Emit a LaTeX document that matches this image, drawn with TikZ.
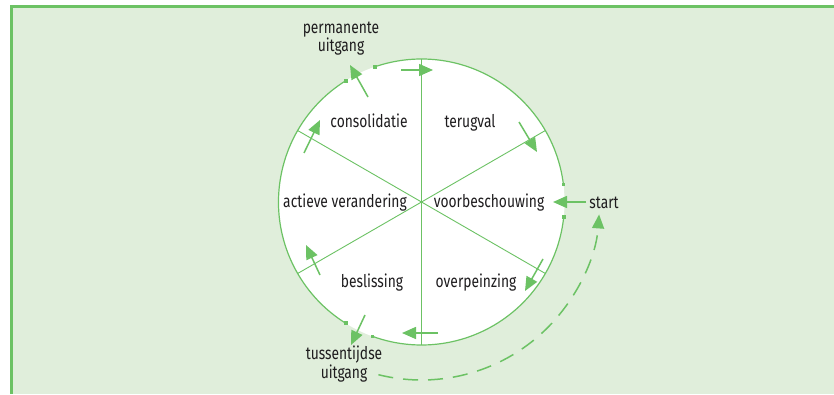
\documentclass[tikz,border=0pt]{standalone}
\usepackage{fontspec}
\setmainfont{Fira Sans}[FakeStretch=0.79]
\usetikzlibrary{arrows.meta}
\definecolor{cyclegreen}{RGB}{108,194,100}
\definecolor{cyclebg}{RGB}{224,238,219}
\definecolor{cycletext}{RGB}{30,28,30}
\begin{document}
\begin{tikzpicture}[x=1pt,y=1pt,
  stage/.style={text=cycletext,font=\fontsize{17.5}{17}\selectfont,inner sep=0pt,align=center,anchor=base},
  rim/.style={cyclegreen,line width=1.2pt},
  spoke/.style={cyclegreen,line width=0.9pt},
  flow/.style={cyclegreen,line width=1.5pt,-{Triangle[length=14pt,width=12pt]}}]
\useasboundingbox (0,0) rectangle (834,394);
\fill[cyclebg] (11,0) rectangle (834,387);
\draw[cyclegreen,line width=3pt] (11,0) -- (11,387) -- (834,387);
\coordinate (c) at (421.5,192);
\fill[white] (c) circle (143);
\draw[rim] (c) ++(7:143) arc[start angle=7,end angle=109,radius=143];
\draw[rim] (c) ++(122:143) arc[start angle=122,end angle=238,radius=143];
\draw[rim] (c) ++(250:143) arc[start angle=250,end angle=354,radius=143];
\foreach \a in {7,109,122,238,250,354}
  \fill[cyclegreen] (c) ++(\a:143) +(-1.8,-1.8) rectangle +(1.8,1.8);
\foreach \a in {90,30,150}
  \draw[spoke] (c) ++(\a:143) -- ++(\a+180:286);

\node[stage] (perm) at (341,342) {permanente\\uitgang};
\node[stage] (cons) at (369,266) {consolidatie};
\node[stage] (teru) at (470,266) {terugval};
\node[stage] (actv) at (345,187) {actieve verandering};
\node[stage] (voor) at (489,187) {voorbeschouwing};
\node[stage] (start) at (604,186) {start};
\node[stage] (besl) at (372,107) {beslissing};
\node[stage] (overp) at (476,107) {overpeinzing};
\node[stage] (tuss) at (344,16) {tussentijdse\\uitgang};

\coordinate (t1) at (401,324); \coordinate (h1) at (433,324);
\coordinate (t2) at (519,272); \coordinate (h2) at (537,242);
\coordinate (t3) at (543,135); \coordinate (h3) at (525,103);
\coordinate (t4) at (438,61);  \coordinate (h4) at (402,61);
\coordinate (t5) at (365,79);  \coordinate (h5) at (351,49);
\coordinate (t6) at (320,119); \coordinate (h6) at (306,149);
\coordinate (t7) at (304,241); \coordinate (h7) at (320,274);
\coordinate (t8) at (368,297); \coordinate (h8) at (350,329);
\coordinate (h9) at (553,192);
\foreach \i in {1,...,8}
  \draw[flow] (t\i) -- (h\i);
\draw[flow] ([xshift=-3pt]start.west |- h9) -- (h9);
\draw[flow,dash pattern=on 15pt off 10pt] (c) ++(-104:178) arc[start angle=-104,end angle=-4,radius=178];
\end{tikzpicture}
\end{document}
